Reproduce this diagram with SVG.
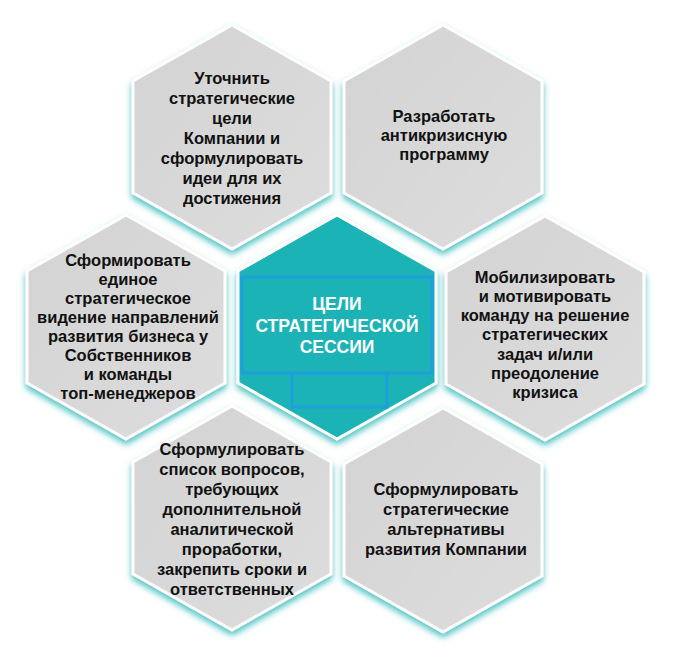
<svg xmlns="http://www.w3.org/2000/svg" xmlns:xlink="http://www.w3.org/1999/xlink" width="676" height="662" viewBox="0 0 676 662">
<defs>
<style>
.hx{fill:url(#gray);stroke:#ffffff;stroke-width:3;filter:url(#glow)}
.hc{fill:#1db3b7;stroke:#ffffff;stroke-width:3;filter:url(#glow)}
.t{font-family:"Liberation Sans",Arial,sans-serif;font-weight:bold;font-size:16.5px;fill:#111111;text-anchor:middle}
.tc{font-family:"Liberation Sans",Arial,sans-serif;font-weight:bold;font-size:17.5px;fill:#ffffff;text-anchor:middle}
.fr{fill:none;stroke:#1c9fda;stroke-width:3}
</style>
<linearGradient id="gray" x1="0" y1="0" x2="1" y2="1">
<stop offset="0" stop-color="#d3d3d3"/>
<stop offset="1" stop-color="#dddddd"/>
</linearGradient>
<filter id="glow" x="-20%" y="-20%" width="140%" height="145%">
<feGaussianBlur in="SourceAlpha" stdDeviation="3" result="b"/>
<feOffset in="b" dy="4" result="o"/>
<feFlood flood-color="#3cbdbd" flood-opacity="0.9"/>
<feComposite in2="o" operator="in"/>
<feMerge><feMergeNode/><feMergeNode in="SourceGraphic"/></feMerge>
</filter>
<path id="hex" d="M0,-112 L99,-56 L99,56 L0,112 L-99,56 L-99,-56 Z"/>
</defs>
<rect width="676" height="662" fill="#ffffff"/>
<g id="connectors"></g>
<g id="node-tl">
<use xlink:href="#hex" class="hx" transform="translate(232,137)"/>
<text class="t"><tspan x="232" y="84">Уточнить</tspan><tspan x="232" y="104">стратегические</tspan><tspan x="232" y="124">цели</tspan><tspan x="232" y="144">Компании и</tspan><tspan x="232" y="164">сформулировать</tspan><tspan x="232" y="184">идеи для их</tspan><tspan x="232" y="204">достижения</tspan></text>
</g>
<g id="node-tr">
<use xlink:href="#hex" class="hx" transform="translate(443,137)"/>
<text class="t"><tspan x="444" y="122">Разработать</tspan><tspan x="444" y="141">антикризисную</tspan><tspan x="444" y="160">программу</tspan></text>
</g>
<g id="node-l">
<use xlink:href="#hex" class="hx" transform="translate(126,327)"/>
<text class="t"><tspan x="128" y="266">Сформировать</tspan><tspan x="128" y="285">единое</tspan><tspan x="128" y="304">стратегическое</tspan><tspan x="128" y="323">видение направлений</tspan><tspan x="128" y="342">развития бизнеса у</tspan><tspan x="128" y="361">Собственников</tspan><tspan x="128" y="380">и команды</tspan><tspan x="128" y="399">топ-менеджеров</tspan></text>
</g>
<g id="node-r">
<use xlink:href="#hex" class="hx" transform="translate(545,328)"/>
<text class="t"><tspan x="545" y="283">Мобилизировать</tspan><tspan x="545" y="302">и мотивировать</tspan><tspan x="545" y="321">команду на решение</tspan><tspan x="545" y="340">стратегических</tspan><tspan x="545" y="360">задач и/или</tspan><tspan x="545" y="379">преодоление</tspan><tspan x="545" y="398">кризиса</tspan></text>
</g>
<g id="node-bl">
<use xlink:href="#hex" class="hx" transform="translate(232,518)"/>
<text class="t"><tspan x="232" y="455">Сформулировать</tspan><tspan x="232" y="475">список вопросов,</tspan><tspan x="232" y="495">требующих</tspan><tspan x="232" y="515">дополнительной</tspan><tspan x="232" y="535">аналитической</tspan><tspan x="232" y="555">проработки,</tspan><tspan x="232" y="575">закрепить сроки и</tspan><tspan x="232" y="595">ответственных</tspan></text>
</g>
<g id="node-br">
<use xlink:href="#hex" class="hx" transform="translate(443,520)"/>
<text class="t"><tspan x="446" y="495">Сформулировать</tspan><tspan x="446" y="515">стратегические</tspan><tspan x="446" y="535">альтернативы</tspan><tspan x="446" y="555">развития Компании</tspan></text>
</g>
<g id="node-center">
<use xlink:href="#hex" class="hc" transform="translate(337,327)"/>
<rect class="fr" x="242" y="277" width="190" height="96"/>
<rect class="fr" x="292" y="373" width="95" height="34"/>
<text class="tc"><tspan x="337" y="310">ЦЕЛИ</tspan><tspan x="337" y="332">СТРАТЕГИЧЕСКОЙ</tspan><tspan x="337" y="353">СЕССИИ</tspan></text>
</g>
</svg>
